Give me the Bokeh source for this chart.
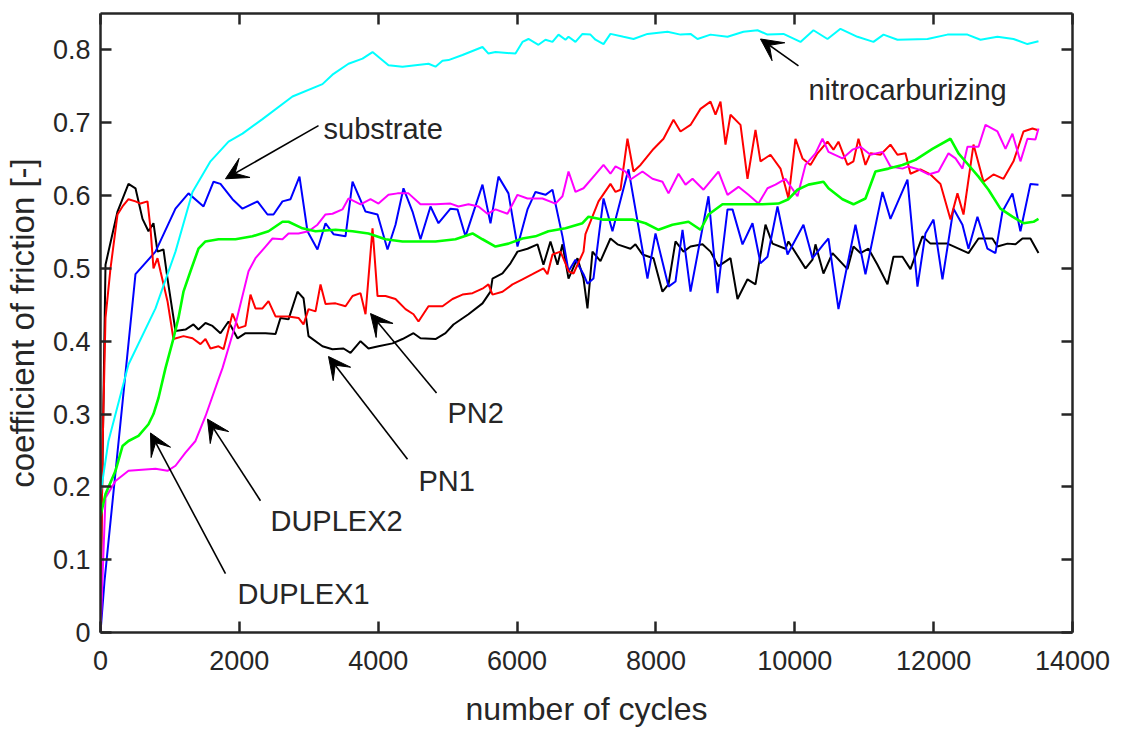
from bokeh.plotting import figure
from bokeh.models import (Range1d, LinearAxis, FixedTicker, Arrow, VeeHead,
                          ColumnDataSource, CustomJSTickFormatter)
from bokeh.core.properties import value
from bokeh.embed import file_html
from bokeh.resources import INLINE

FONT = "Liberation Sans"
AX = "#262626"

# ---------------- data ----------------
nitro = [(0, 0.19), (115, 0.263), (403, 0.368), (792, 0.445), (1080, 0.523), (1325, 0.605),
         (1584, 0.647), (1844, 0.674), (2045, 0.685), (2333, 0.705), (2765, 0.736), (3197, 0.753),
         (3341, 0.766), (3572, 0.781), (3774, 0.788), (3918, 0.797), (4148, 0.779), (4350, 0.777),
         (4724, 0.781), (4825, 0.777), (4926, 0.785), (5012, 0.786), (5214, 0.793), (5502, 0.804),
         (5588, 0.795), (5689, 0.797), (5977, 0.795), (6078, 0.811), (6164, 0.815), (6308, 0.807),
         (6409, 0.814), (6510, 0.811), (6597, 0.821), (6697, 0.814), (6741, 0.818), (6841, 0.811),
         (6942, 0.822), (7057, 0.821), (7129, 0.814), (7245, 0.808), (7345, 0.822), (7533, 0.818),
         (7677, 0.815), (7878, 0.822), (8167, 0.825), (8354, 0.821), (8498, 0.822), (8599, 0.815),
         (8786, 0.821), (9031, 0.818), (9261, 0.825), (9463, 0.827), (9607, 0.821), (9837, 0.822),
         (10082, 0.811), (10269, 0.827), (10471, 0.815), (10658, 0.829), (10903, 0.818),
         (11133, 0.811), (11278, 0.821), (11479, 0.814), (11911, 0.815), (12199, 0.821),
         (12487, 0.821), (12675, 0.814), (12919, 0.818), (13150, 0.815), (13351, 0.808),
         (13510, 0.812)]
nitro_x = [a for a, b in nitro]
nitro_y = [b for a, b in nitro]

sub_x = [0, 58, 504, 792, 1080, 1267, 1484, 1628, 1728, 1901, 2045, 2261, 2405, 2492, 2621, 2737,
         2866, 2981, 3125, 3241, 3356, 3529, 3630, 3817, 3990, 4134, 4249, 4364, 4494, 4609, 4753,
         4868, 5041, 5142, 5257, 5502, 5617, 5732, 5876, 6006, 6150, 6265, 6409, 6510, 6654, 6741,
         6841, 6957, 7014, 7100, 7245, 7374, 7605, 7878, 7994, 8181, 8282, 8383, 8498, 8757, 8887,
         9031, 9103, 9247, 9391, 9506, 9607, 9751, 9895, 10125, 10255, 10413, 10485, 10629, 10874,
         11018, 11263, 11378, 11623, 11767, 11882, 11998, 12127, 12286, 12415, 12502, 12631, 12775,
         12890, 12991, 13135, 13250, 13394, 13510]
sub_y = [0.0, 0.071, 0.492, 0.523, 0.582, 0.603, 0.585, 0.619, 0.616, 0.595, 0.582, 0.592, 0.574,
         0.574, 0.592, 0.595, 0.626, 0.551, 0.526, 0.562, 0.547, 0.544, 0.619, 0.578, 0.574, 0.526,
         0.560, 0.610, 0.578, 0.540, 0.585, 0.562, 0.582, 0.581, 0.544, 0.615, 0.562, 0.626, 0.603,
         0.530, 0.581, 0.605, 0.601, 0.608, 0.544, 0.496, 0.512, 0.492, 0.479, 0.486, 0.596, 0.551,
         0.636, 0.486, 0.548, 0.475, 0.482, 0.553, 0.468, 0.599, 0.466, 0.581, 0.581, 0.533, 0.562,
         0.507, 0.516, 0.585, 0.519, 0.560, 0.514, 0.533, 0.541, 0.444, 0.560, 0.492, 0.605, 0.568,
         0.622, 0.475, 0.548, 0.567, 0.485, 0.582, 0.560, 0.527, 0.571, 0.527, 0.521, 0.578, 0.603,
         0.551, 0.616, 0.615]

pn1_x = [0, 72, 245, 403, 504, 605, 691, 763, 821, 907, 965, 1080, 1224, 1339, 1411, 1512, 1613,
         1728, 1844, 1973, 2088, 2232, 2377, 2521, 2593, 2708, 2837, 2924, 2996, 3197, 3341, 3500,
         3601, 3745, 3860, 4004, 4206, 4350, 4508, 4609, 4825, 4969, 5084, 5300, 5502, 5617, 5646,
         5790, 5905, 6006, 6150, 6294, 6380, 6481, 6582, 6654, 6741, 6870, 6957, 7014, 7086, 7201,
         7345, 7446, 7633, 7705, 7806, 7965, 8094, 8181, 8282, 8397, 8498, 8671, 8786, 8901, 9074,
         9175, 9319, 9434, 9578, 9679, 9866, 9909, 10154, 10255, 10298, 10413, 10543, 10759, 10845,
         10946, 11061, 11191, 11335, 11421, 11551, 11666, 11839, 11954, 12199, 12502, 12646, 12847,
         12919, 13063, 13179, 13279, 13394, 13510]
pn1_y = [0.05, 0.505, 0.578, 0.616, 0.610, 0.568, 0.551, 0.562, 0.523, 0.526, 0.486, 0.414, 0.416,
         0.423, 0.416, 0.425, 0.421, 0.411, 0.427, 0.404, 0.411, 0.411, 0.411, 0.410, 0.432, 0.430,
         0.468, 0.459, 0.407, 0.393, 0.389, 0.390, 0.384, 0.400, 0.390, 0.393, 0.397, 0.403, 0.411,
         0.404, 0.403, 0.411, 0.423, 0.437, 0.452, 0.468, 0.486, 0.493, 0.507, 0.523, 0.527, 0.533,
         0.505, 0.537, 0.505, 0.533, 0.486, 0.514, 0.486, 0.445, 0.523, 0.510, 0.541, 0.533, 0.527,
         0.533, 0.519, 0.514, 0.468, 0.478, 0.537, 0.523, 0.530, 0.533, 0.523, 0.503, 0.514, 0.458,
         0.485, 0.478, 0.560, 0.534, 0.527, 0.537, 0.500, 0.512, 0.533, 0.493, 0.521, 0.499, 0.530,
         0.521, 0.527, 0.505, 0.478, 0.516, 0.516, 0.499, 0.544, 0.534, 0.534, 0.521, 0.541, 0.541,
         0.530, 0.534, 0.533, 0.541, 0.541, 0.521]

pn2_x = [0, 29, 72, 144, 245, 317, 403, 504, 576, 677, 720, 763, 821, 864, 965, 1051, 1195, 1325,
         1440, 1512, 1584, 1700, 1772, 1901, 1988, 2088, 2160, 2232, 2333, 2420, 2521, 2708, 2852,
         2924, 2996, 3097, 3169, 3241, 3385, 3529, 3630, 3745, 3817, 3918, 3990, 4105, 4249, 4393,
         4508, 4580, 4724, 4926, 5070, 5214, 5358, 5516, 5588, 5646, 5790, 5934, 6078, 6222, 6380,
         6438, 6510, 6625, 6697, 6741, 6813, 6957, 6985, 7173, 7345, 7418, 7490, 7590, 7677, 7778,
         7965, 8109, 8253, 8354, 8498, 8642, 8786, 8858, 8930, 9002, 9074, 9218, 9319, 9434, 9506,
         9650, 9794, 9909, 10010, 10111, 10226, 10327, 10471, 10557, 10629, 10759, 10845, 10917,
         11018, 11090, 11234, 11378, 11479, 11594, 11666, 11810, 11954, 12098, 12243, 12343, 12430,
         12574, 12718, 12862, 13006, 13150, 13294, 13423, 13495]
pn2_y = [0.0, 0.249, 0.432, 0.500, 0.574, 0.585, 0.595, 0.592, 0.589, 0.592, 0.555, 0.500, 0.514,
         0.496, 0.455, 0.403, 0.407, 0.404, 0.396, 0.403, 0.390, 0.393, 0.389, 0.438, 0.418, 0.421,
         0.464, 0.445, 0.445, 0.455, 0.434, 0.434, 0.432, 0.423, 0.444, 0.441, 0.478, 0.451, 0.452,
         0.448, 0.462, 0.466, 0.437, 0.555, 0.462, 0.462, 0.458, 0.444, 0.437, 0.427, 0.448, 0.448,
         0.458, 0.464, 0.466, 0.473, 0.478, 0.464, 0.468, 0.478, 0.485, 0.492, 0.500, 0.492, 0.519,
         0.523, 0.507, 0.496, 0.493, 0.523, 0.547, 0.592, 0.616, 0.605, 0.608, 0.678, 0.633, 0.642,
         0.664, 0.678, 0.704, 0.688, 0.697, 0.719, 0.729, 0.711, 0.729, 0.670, 0.711, 0.697, 0.623,
         0.690, 0.647, 0.656, 0.637, 0.596, 0.678, 0.651, 0.642, 0.658, 0.674, 0.663, 0.674, 0.642,
         0.647, 0.678, 0.642, 0.658, 0.656, 0.670, 0.656, 0.658, 0.630, 0.636, 0.629, 0.616, 0.567,
         0.603, 0.574, 0.670, 0.619, 0.629, 0.623, 0.647, 0.688, 0.692, 0.690]

dup2_x = [0, 72, 216, 403, 792, 965, 1080, 1224, 1368, 1512, 1700, 1757, 1944, 2132, 2232, 2377,
          2477, 2621, 2708, 2852, 2996, 3125, 3241, 3341, 3485, 3572, 3745, 3889, 4004, 4148, 4278,
          4436, 4609, 4825, 5041, 5156, 5300, 5444, 5574, 5689, 5862, 6006, 6150, 6366, 6553, 6654,
          6741, 6841, 6957, 7129, 7245, 7345, 7418, 7562, 7634, 7806, 7950, 8094, 8181, 8325, 8426,
          8527, 8685, 8901, 9031, 9189, 9333, 9477, 9607, 9722, 9866, 10039, 10154, 10298, 10399,
          10485, 10687, 10831, 10946, 11090, 11263, 11378, 11551, 11637, 11782, 11926, 12070, 12214,
          12315, 12415, 12487, 12646, 12747, 12919, 13035, 13135, 13250, 13351, 13466, 13510]
dup2_y = [0.0, 0.185, 0.208, 0.222, 0.225, 0.222, 0.229, 0.247, 0.263, 0.297, 0.348, 0.363, 0.423,
          0.496, 0.514, 0.530, 0.541, 0.540, 0.548, 0.548, 0.551, 0.560, 0.574, 0.575, 0.581, 0.596,
          0.588, 0.595, 0.589, 0.601, 0.603, 0.603, 0.588, 0.588, 0.589, 0.585, 0.588, 0.585, 0.575,
          0.581, 0.575, 0.601, 0.596, 0.596, 0.589, 0.599, 0.633, 0.605, 0.610, 0.629, 0.642, 0.630,
          0.640, 0.633, 0.622, 0.633, 0.623, 0.619, 0.603, 0.630, 0.615, 0.623, 0.608, 0.633, 0.601,
          0.612, 0.601, 0.589, 0.610, 0.615, 0.623, 0.599, 0.642, 0.658, 0.678, 0.660, 0.651, 0.663,
          0.667, 0.656, 0.660, 0.640, 0.637, 0.640, 0.636, 0.629, 0.633, 0.658, 0.651, 0.637, 0.667,
          0.667, 0.697, 0.688, 0.664, 0.685, 0.647, 0.678, 0.677, 0.692]

dup1_x = [0, 72, 216, 317, 403, 547, 691, 763, 835, 936, 1051, 1123, 1195, 1296, 1411, 1512, 1700,
          1944, 2189, 2420, 2621, 2708, 2909, 3097, 3385, 3630, 3860, 4105, 4350, 4580, 4825, 5113,
          5358, 5502, 5689, 5876, 6078, 6265, 6452, 6697, 6942, 7029, 7230, 7461, 7663, 7850, 8037,
          8238, 8469, 8642, 8757, 8959, 9247, 9535, 9765, 9909, 10039, 10197, 10413, 10485, 10687,
          10845, 11018, 11162, 11349, 11551, 11738, 11983, 12243, 12358, 12502, 12646, 12790, 12962,
          13135, 13294, 13438, 13510]
dup1_y = [0.160, 0.190, 0.222, 0.256, 0.263, 0.270, 0.286, 0.300, 0.322, 0.363, 0.404, 0.432,
          0.468, 0.496, 0.527, 0.537, 0.540, 0.540, 0.544, 0.551, 0.564, 0.564, 0.555, 0.551, 0.553,
          0.551, 0.548, 0.540, 0.537, 0.537, 0.537, 0.540, 0.548, 0.540, 0.530, 0.534, 0.541, 0.544,
          0.551, 0.555, 0.562, 0.571, 0.567, 0.567, 0.567, 0.562, 0.553, 0.560, 0.564, 0.553, 0.574,
          0.588, 0.588, 0.588, 0.589, 0.595, 0.608, 0.615, 0.619, 0.610, 0.595, 0.588, 0.596, 0.633,
          0.637, 0.642, 0.649, 0.664, 0.678, 0.658, 0.642, 0.626, 0.608, 0.582, 0.571, 0.562, 0.564,
          0.568]

x_ticks = [0, 2000, 4000, 6000, 8000, 10000, 12000, 14000]
y_ticks = [0, 0.1, 0.2, 0.3, 0.4, 0.5, 0.6, 0.7, 0.8]

label_text = ["substrate", "nitrocarburizing", "PN2", "PN1", "DUPLEX2", "DUPLEX1"]
label_x = [3212, 10197, 4998, 4580, 2448, 1973]
label_y = [0.692, 0.745, 0.301, 0.208, 0.153, 0.053]
arrow_x0 = [3140, 10053, 4840, 4422, 2304, 1800]
arrow_y0 = [0.696, 0.778, 0.329, 0.238, 0.181, 0.081]
arrow_x1 = [1800, 9506, 3889, 3284, 1541, 720]
arrow_y1 = [0.623, 0.815, 0.438, 0.379, 0.293, 0.274]

# ---------------- figure ----------------
p = figure(width=1110, height=730, x_range=Range1d(0, 14000), y_range=Range1d(0, 0.85),
           output_backend="svg", toolbar_location=None,
           min_border_left=100, min_border_right=38, min_border_top=13, min_border_bottom=98)
p.grid.visible = False
p.outline_line_color = None
p.background_fill_color = "white"
p.border_fill_color = "white"

series = [
    (pn1_x, pn1_y, "#000000", 2.0),
    (sub_x, sub_y, "#0000FF", 2.0),
    (pn2_x, pn2_y, "#FF0000", 2.0),
    (nitro_x, nitro_y, "#00FFFF", 2.0),
    (dup2_x, dup2_y, "#FF00FF", 2.0),
    (dup1_x, dup1_y, "#00FF00", 2.6),
]
for xs, ys, col, lw in series:
    p.line(xs, ys, line_color=col, line_width=lw)

def style_axis(ax, labels=True):
    ax.axis_line_color = AX
    ax.axis_line_width = 2.5
    ax.major_tick_line_color = AX
    ax.major_tick_line_width = 2.5
    ax.major_tick_in = 11
    ax.major_tick_out = 0
    ax.minor_tick_line_color = None
    if labels:
        ax.major_label_text_font = FONT
        ax.major_label_text_font_size = "27px"
        ax.major_label_text_color = AX
        ax.axis_label_text_font = FONT
        ax.axis_label_text_font_style = "normal"
        ax.axis_label_text_color = AX
    else:
        ax.formatter = CustomJSTickFormatter(code="return '';")
        ax.major_label_text_font_size = "6px"
        ax.major_label_standoff = 0

xa = p.xaxis[0]
xa.ticker = FixedTicker(ticks=x_ticks)
xa.axis_label = "number of cycles"
style_axis(xa)
xa.axis_label_text_font_size = "32px"
xa.major_label_standoff = 18
xa.axis_label_standoff = 18

ya = p.yaxis[0]
ya.ticker = FixedTicker(ticks=y_ticks)
ya.axis_label = "coefficient of friction [-]"
ya.major_label_overrides = {0: "0"}
style_axis(ya)
ya.axis_label_text_font_size = "33px"
ya.major_label_standoff = 10
ya.axis_label_standoff = 9

top = LinearAxis(ticker=FixedTicker(ticks=x_ticks))
style_axis(top, labels=False)
p.add_layout(top, "above")
right = LinearAxis(ticker=FixedTicker(ticks=y_ticks))
style_axis(right, labels=False)
p.add_layout(right, "right")

# annotations
arr_src = ColumnDataSource(dict(x0=arrow_x0, y0=arrow_y0, x1=arrow_x1, y1=arrow_y1))
p.add_layout(Arrow(x_start="x0", y_start="y0", x_end="x1", y_end="y1", source=arr_src,
                   line_color="black", line_width=1.6,
                   end=VeeHead(size=22, fill_color="black", line_color="black", line_width=1)))
lab_src = ColumnDataSource(dict(x=label_x, y=label_y, t=label_text))
p.text(x="x", y="y", text="t", source=lab_src, text_font=value(FONT),
       text_font_size="29px", text_color=AX, text_align="left", text_baseline="middle")

open("out.html", "w").write(file_html(p, INLINE))
